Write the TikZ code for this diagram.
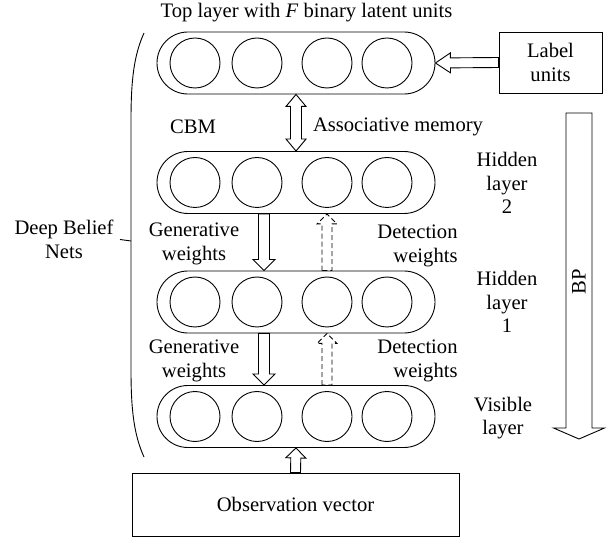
\documentclass[tikz,border=0pt]{standalone}
\usepackage{fontspec}
\setmainfont{Liberation Serif}
\usetikzlibrary{calc}
% hollow arrow: #1 options, #2 start, #3 tip, #4 shaft half width, #5 head half width, #6 head length
\newcommand\hollowarrow[6]{%
  \path ($(#3)!#6!(#2)$) coordinate (hc);
  \draw[#1] ($(#2)!#4!90:(#3)$) -- ($(hc)!#4!90:(#3)$) -- ($(hc)!#5!90:(#3)$) -- (#3)
    -- ($(hc)!#5!-90:(#3)$) -- ($(hc)!#4!-90:(#3)$) -- ($(#2)!#4!-90:(#3)$) -- cycle;
}
\newcommand\hollowdarrow[6]{%
  \path ($(#3)!#6!(#2)$) coordinate (hc) ($(#2)!#6!(#3)$) coordinate (hd);
  \draw[#1] (#2) -- ($(hd)!#5!90:(#3)$) -- ($(hd)!#4!90:(#3)$) -- ($(hc)!#4!90:(#3)$) -- ($(hc)!#5!90:(#3)$) -- (#3)
    -- ($(hc)!#5!-90:(#3)$) -- ($(hc)!#4!-90:(#3)$) -- ($(hd)!#4!-90:(#3)$) -- ($(hd)!#5!-90:(#3)$) -- cycle;
}
\begin{document}
\begin{tikzpicture}[x=1pt,y=-1pt,line width=0.9pt,
  every node/.style={font=\fontsize{20.6}{23.5}\selectfont},
  pill/.style={draw, rounded corners=30.9pt, minimum width=278pt, minimum height=62pt, inner sep=0pt},
  unit/.style={draw, circle, minimum size=50pt, inner sep=0pt},
  lbl/.style={align=center, inner sep=0pt},
  lblr/.style={align=right, inner sep=0pt},
  box/.style={draw, inner sep=0pt, align=center}]
\useasboundingbox (0,0) rectangle (611,537);

% layers
\node[pill] (top) at (296,63) {};
\node[pill] (hb) at (296,182.5) {};
\node[pill] (ha) at (296,302) {};
\node[pill] (vis) at (296,416.5) {};
\foreach \p in {top,hb,ha,vis}{
  \foreach \i/\dx in {1/-101,2/-39,3/31,4/91}{
    \node[unit] (\p\i) at ($(\p)+(\dx,0)$) {};
  }
}

% boxes
\node[box, minimum width=103pt, minimum height=61pt] (label) at (550.5,62.5) {Label\\units};
\node[box, minimum width=327pt, minimum height=63pt] (obs) at (295.5,504.5) {Observation vector};

% texts
\node[lbl] (title) at (306.5,13) {Top layer with \textit{F} binary latent units};
\node[lbl] (cbm) at (193,127) {CBM};
\node[lbl] (assoc) at (398,127) {Associative memory};
\node[lbl] (hid2) at (507,183) {Hidden\\layer\\2};
\node[lbl] (hid1) at (507,302) {Hidden\\layer\\1};
\node[lbl] (visl) at (503,418) {Visible\\layer};
\node[lbl] (gen1) at (194,244) {Generative\\weights};
\node[lbl] (gen2) at (194,361) {Generative\\weights};
\node[lblr, anchor=east] (det1) at (458,246) {Detection\\weights};
\node[lblr, anchor=east] (det2) at (458,361) {Detection\\weights};
\node[lbl] (dbn) at (64,239.5) {Deep Belief\\Nets};

% bracket
\draw (144,33) .. controls (134,55) and (131,80) .. (131,120) -- (131,370) .. controls (131,410) and (134,435) .. (144,457);
\coordinate (tick) at (131,241);
\draw (dbn.east -| 120,0) -- (tick);

% arrows
\hollowarrow{}{label.west}{top.east}{5pt}{10pt}{15pt}
\hollowdarrow{}{top.south}{hb.north}{5.5pt}{10pt}{12pt}
\coordinate (g1s) at ($(hb.south)+(-32,0)$);
\coordinate (g1e) at ($(ha.north)+(-32,0)$);
\hollowarrow{}{g1s}{g1e}{5.5pt}{11pt}{11pt}
\coordinate (d1s) at ($(ha.north)+(31,0)$);
\coordinate (d1e) at ($(hb.south)+(31,0)$);
\hollowarrow{dash pattern=on 5pt off 3pt}{d1s}{d1e}{5pt}{10pt}{10pt}
\coordinate (g2s) at ($(ha.south)+(-32,0)$);
\coordinate (g2e) at ($(vis.north)+(-32,0)$);
\hollowarrow{}{g2s}{g2e}{5.5pt}{11pt}{11pt}
\coordinate (d2s) at ($(vis.north)+(31,0)$);
\coordinate (d2e) at ($(ha.south)+(31,0)$);
\hollowarrow{dash pattern=on 5pt off 3pt}{d2s}{d2e}{5pt}{10pt}{10pt}
\hollowarrow{}{obs.north}{vis.south}{5pt}{10pt}{10pt}

% BP
\coordinate (bps) at (579,113);
\coordinate (bpe) at (579,439);
\hollowarrow{}{bps}{bpe}{13pt}{25.5pt}{11pt}
\node[lbl, rotate=90] (bp) at (579,282) {BP};
\end{tikzpicture}
\end{document}
